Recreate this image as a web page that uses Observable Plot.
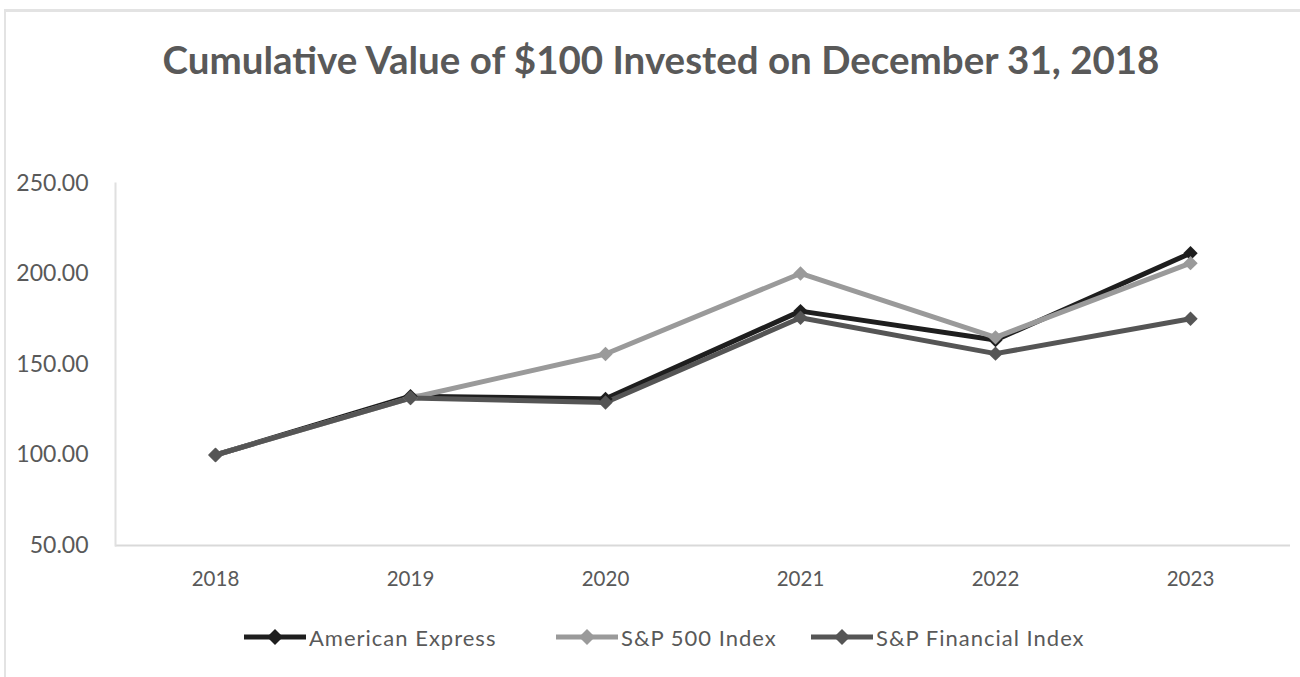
<!DOCTYPE html>
<html>
<head>
<meta charset="utf-8">
<script src="https://cdn.jsdelivr.net/npm/d3@7"></script>
<script src="https://cdn.jsdelivr.net/npm/@observablehq/plot@0.6"></script>
<style>
  html, body { margin: 0; padding: 0; background: #fff; }
  body { width: 1300px; height: 677px; position: relative; overflow: hidden; font-family: Lato, "Open Sans", sans-serif; }
  #frame { position: absolute; left: 4px; top: 9px; width: 1400px; height: 800px; border-top: 3px solid #e3e3e3; border-left: 2px solid #e3e3e3; }
  #title { position: absolute; left: 0; width: 1322px; top: 36px; text-align: center; font-size: 38.5px; font-weight: bold; color: #595959; white-space: nowrap; }
  #chart { position: absolute; left: 0; top: 160px; }
  #legend { position: absolute; top: 622px; left: 0; width: 1300px; height: 30px; }
  .item { position: absolute; top: 0; display: flex; align-items: center; font-size: 22px; letter-spacing: 1px; color: #595959; white-space: nowrap; }
  .item svg { margin-right: 2px; }
</style>
</head>
<body>
<div id="frame"></div>
<div id="title">Cumulative Value of $100 Invested on December 31, 2018</div>
<div id="chart"></div>
<div id="legend"></div>
<script>
const years = ["2018", "2019", "2020", "2021", "2022", "2023"];
const seriesNames = ["American Express", "S&P 500 Index", "S&P Financial Index"];
const amex = [100.00, 132.5, 131.0, 179.5, 163.5, 211.5];
const sp500 = [100.00, 131.5, 155.8, 200.3, 165.0, 206.0];
const spFin = [100.00, 131.5, 129.0, 175.8, 156.0, 175.3];
const seriesColors = ["#1e1e1e", "#9a9a9a", "#555555"];
const yTicks = [50, 100, 150, 200, 250];

const allValues = [amex, sp500, spFin];
const data = [];
seriesNames.forEach((name, i) => {
  years.forEach((yr, j) => data.push({series: name, year: yr, value: allValues[i][j]}));
});

const chart = Plot.plot({
  width: 1300,
  height: 435,
  marginLeft: 115,
  marginRight: 10,
  marginTop: 23,
  marginBottom: 50,
  style: {fontFamily: "Lato, 'Open Sans', sans-serif", fontSize: "21px", color: "#595959", background: "transparent", overflow: "visible"},
  x: {type: "point", domain: years, padding: 0.5},
  y: {domain: [50, 250]},
  color: {domain: seriesNames, range: seriesColors},
  marks: [
    Plot.ruleY([50], {stroke: "#d9d9d9", strokeWidth: 2}),
    Plot.frame({anchor: "left", stroke: "#e0e0e0", strokeWidth: 2}),
    Plot.axisY({ticks: yTicks, tickSize: 0, tickPadding: 27, tickFormat: d => d.toFixed(2), label: null, fontSize: 23}),
    Plot.axisX({tickSize: 0, tickPadding: 26, label: null, fontSize: 20.5}),
    Plot.line(data, {x: "year", y: "value", z: "series", stroke: "series", strokeWidth: 5, strokeLinejoin: "round"}),
    Plot.dot(data, {x: "year", y: "value", fill: "series", symbol: "diamond2", r: 6.5, stroke: null})
  ]
});
document.getElementById("chart").appendChild(chart);

// legend
const legendPos = [243, 555, 810];
const legend = document.getElementById("legend");
seriesNames.forEach((name, i) => {
  const item = document.createElement("div");
  item.className = "item";
  item.style.left = legendPos[i] + "px";
  item.innerHTML = `<svg width="64" height="30"><line x1="1" x2="63" y1="15" y2="15" stroke="${seriesColors[i]}" stroke-width="5"/><path d="M32,7 L40,15 L32,23 L24,15 Z" fill="${seriesColors[i]}"/></svg><span>${name.replace("&","&amp;")}</span>`;
  legend.appendChild(item);
});
</script>
</body>
</html>
